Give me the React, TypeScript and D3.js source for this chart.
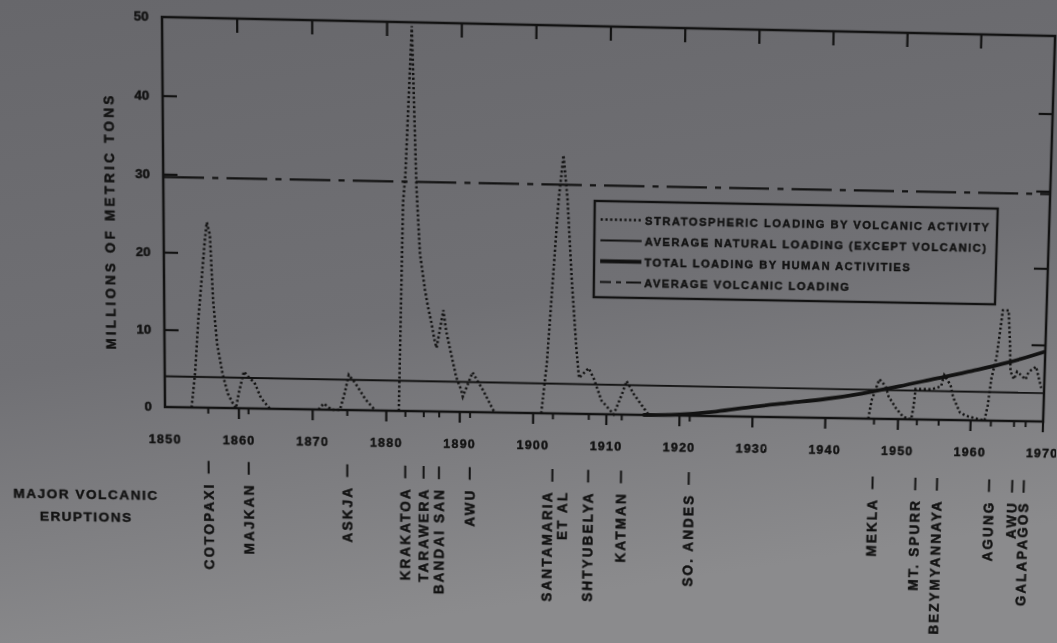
import React from 'react';
import * as d3 from 'd3';

// ---------- data ----------
const yearDomain = [1850, 1970];
const loadDomain = [0, 50];
const decadeTicks = [1850, 1860, 1870, 1880, 1890, 1900, 1910, 1920, 1930, 1940, 1950, 1960, 1970];
const loadTicks = [0, 10, 20, 30, 40, 50];

// null = break in the dotted record
const volcanicYears = [
  1853.6, 1854.1, 1854.6, 1855.0, 1855.5, 1855.8, 1856.2, 1856.4, 1856.6, 1857.1, 1857.8, 1858.5, 1859.2,
  1859.6, 1860.0, 1860.7, 1861.4, 1862.1, 1863.0, 1864.2, null,
  1870.8, 1871.5, 1872.6, 1873.7, 1874.4, 1874.9, 1875.8, 1877.2, 1878.5, null,
  1881.7, 1882.2, 1882.5, 1883.3, 1884.0, 1884.5, 1885.2, 1885.6, 1886.1, 1886.5, 1886.8, 1887.7, 1888.1,
  1888.6, 1889.0, 1889.5, 1890.2, 1890.4, 1891.1, 1891.7, 1892.2, 1893.2, 1894.5, 1894.8, null,
  1901.1, 1901.8, 1902.5, 1903.2, 1903.8, 1904.4, 1905.1, 1905.8, 1906.2, 1907.5, 1908.2, 1909.3, 1911.0,
  1912.1, 1912.7, 1913.7, 1915.8, null,
  1945.9, 1946.3, 1947.3, 1948.2, 1948.6, 1949.7, 1950.7, 1951.8, 1952.1, 1952.3, 1954.5, 1955.8, 1956.2,
  1957.1, 1957.5, 1958.5, 1959.3, 1960.5, 1961.9, 1962.3, 1962.7, 1963.3, 1963.7, 1964.0, 1964.8, 1965.1,
  1965.3, 1965.8, 1966.2, 1967.4, 1967.8, 1968.8, 1969.6,
];
const volcanicLoad = [
  0, 4.5, 11.7, 16, 21.5, 24, 22.4, 18, 13.8, 8.3, 4.5, 1.9, 0.6,
  0, 2, 4.8, 4.0, 3.4, 1.4, 0, null,
  0, 0.8, 0, 0, 2.4, 4.6, 3.5, 1.4, 0, null,
  0, 27, 30.5, 49.5, 29, 20.5, 15.8, 13.7, 11.5, 9.4, 8.3, 13.2, 10.5,
  8.3, 6.6, 4.5, 2.8, 2.0, 3.7, 5.2, 4.4, 2.8, 0.4, 0, null,
  0, 6.5, 17.2, 27.8, 33.5, 27.8, 17.2, 8.6, 4.7, 6.0, 4.7, 1.8, 0,
  2.7, 4.4, 2.7, 0, null,
  0, 2.4, 5.2, 4.3, 3.0, 1.4, 0.3, 0, 1.8, 4.0, 4.0, 4.4, 5.9,
  4.6, 3.0, 1.0, 0.6, 0.3, 0, 2.0, 5.6, 8.2, 11.7, 14.5, 14.5, 10.4,
  6.5, 5.5, 6.5, 5.5, 6.5, 7.2, 4.4,
];

const naturalYears = [1850, 1970];
const naturalLoad = [4.0, 3.75];

const humanYears = [1915, 1918, 1920, 1925, 1930, 1935, 1940, 1945, 1950, 1955, 1960, 1965, 1970];
const humanLoad = [0, 0.05, 0.15, 0.6, 1.3, 1.9, 2.5, 3.3, 4.3, 5.4, 6.5, 7.7, 9.2];

const averageVolcanicYears = [1850, 1970];
const averageVolcanicLoad = [29.7, 29.7];

const eruptionNames = [
  'COTOPAXI', 'MAJKAN', 'ASKJA', 'KRAKATOA', 'TARAWERA', 'BANDAI SAN', 'AWU', 'SANTAMARIA\nET AL',
  'SHTYUBELYA', 'KATMAN', 'SO. ANDES', 'MEKLA', 'MT. SPURR', 'BEZYMYANNAYA', 'AGUNG', 'AWU', 'GALAPAGOS',
];
const eruptionYears = [
  1855.85, 1861.3, 1874.7, 1882.6, 1885.1, 1887.2, 1891.4, 1902.7,
  1907.6, 1912.1, 1921.4, 1946.7, 1952.6, 1955.6, 1962.8, 1966.0, 1967.6,
];

const legendLabels = [
  'STRATOSPHERIC LOADING BY VOLCANIC ACTIVITY',
  'AVERAGE NATURAL LOADING (EXCEPT VOLCANIC)',
  'TOTAL LOADING BY HUMAN ACTIVITIES',
  'AVERAGE VOLCANIC LOADING',
];

const yTitle = 'MILLIONS OF METRIC TONS';
const eruptionTitle = ['MAJOR VOLCANIC', 'ERUPTIONS'];

// ---------- layout ----------
const W = 1057;
const H = 643;
const M = { left: 165, right: 1043, top: 17, bottom: 407 };
const INK = '#121212';
const FONT = '"Liberation Sans", Arial, Helvetica, sans-serif';

// photo perspective: where the frame corners landed in the photograph
const frameSrc = [[M.left, M.top], [M.left, M.bottom], [M.right, M.bottom], [M.right, M.top]];
const frameDst = [[162, 17], [165, 407], [1043, 421.5], [1055, 36]];

function solveHomography(src: number[][], dst: number[][]) {
  const A: number[][] = [];
  for (let i = 0; i < 4; i++) {
    const [x, y] = src[i];
    const [X, Y] = dst[i];
    A.push([x, y, 1, 0, 0, 0, -x * X, -y * X, X]);
    A.push([0, 0, 0, x, y, 1, -x * Y, -y * Y, Y]);
  }
  const n = 8;
  for (let c = 0; c < n; c++) {
    let p = c;
    for (let r = c + 1; r < n; r++) if (Math.abs(A[r][c]) > Math.abs(A[p][c])) p = r;
    [A[c], A[p]] = [A[p], A[c]];
    for (let r = 0; r < n; r++) {
      if (r === c) continue;
      const f = A[r][c] / A[c][c];
      for (let k = c; k <= n; k++) A[r][k] -= f * A[c][k];
    }
  }
  return A.map((row, i) => row[n] / row[i]);
}

export default function App() {
  const x = d3.scaleLinear().domain(yearDomain).range([M.left, M.right]);
  const y = d3.scaleLinear().domain(loadDomain).range([M.bottom, M.top]);

  const h = solveHomography(frameSrc, frameDst);
  const m3d = `matrix3d(${h[0]},${h[3]},0,${h[6]},${h[1]},${h[4]},0,${h[7]},0,0,1,0,${h[2]},${h[5]},0,1)`;

  const volcPts = volcanicYears.map((yr, i) => [yr, volcanicLoad[i]] as [number | null, number | null]);
  const volcLine = d3
    .line<[number | null, number | null]>()
    .defined((d) => d[0] != null && d[1] != null)
    .x((d) => x(d[0] as number))
    .y((d) => y(d[1] as number));

  const simpleLine = d3.line<[number, number]>().x((d) => x(d[0])).y((d) => y(d[1]));
  const humanLine = d3
    .line<[number, number]>()
    .x((d) => x(d[0]))
    .y((d) => y(d[1]))
    .curve(d3.curveMonotoneX);

  const naturalPts = naturalYears.map((yr, i) => [yr, naturalLoad[i]] as [number, number]);
  const humanPts = humanYears.map((yr, i) => [yr, humanLoad[i]] as [number, number]);
  const avgPts = averageVolcanicYears.map((yr, i) => [yr, averageVolcanicLoad[i]] as [number, number]);

  const dotted = { stroke: INK, strokeWidth: 2.5, strokeDasharray: '2.2 2.5', fill: 'none' };
  const dashDot = { stroke: INK, strokeWidth: 2.3, strokeDasharray: '40 8 6 8', fill: 'none' };

  const legendX = 590;
  const legendY = 191;
  const legendW = 401;
  const legendH = 97;
  const rowGap = 21;
  const sampleX0 = legendX + 6;
  const sampleX1 = legendX + 47;
  const legendStyles = [
    { ...dotted },
    { stroke: INK, strokeWidth: 1.9, fill: 'none' },
    { stroke: INK, strokeWidth: 3.8, fill: 'none' },
    { stroke: INK, strokeWidth: 2.2, strokeDasharray: '11 5 5 5 15', fill: 'none' },
  ];

  const textStyle = {
    fontFamily: FONT,
    fontWeight: 700,
    fill: INK,
    stroke: INK,
    strokeWidth: 0.45,
  } as const;

  // the label strip below the axis sits slightly more tilted in the photo
  const labelTilt = `translate(${M.left},0) skewY(0.45) translate(${-M.left},0)`;

  return (
    <div style={{ position: 'absolute', left: 0, top: 0, width: W, height: H, overflow: 'hidden' }}>
      <svg width={W} height={H} style={{ position: 'absolute', left: 0, top: 0 }}>
        <defs>
          <linearGradient id="paper" x1="0" y1="0" x2="0.25" y2="1">
            <stop offset="0" stopColor="#67676b" />
            <stop offset="0.55" stopColor="#707074" />
            <stop offset="1" stopColor="#8b8b8d" />
          </linearGradient>
        </defs>
        <rect x={0} y={0} width={W} height={H} fill="url(#paper)" />
      </svg>
      <svg
        width={W}
        height={H}
        style={{ position: 'absolute', left: 0, top: 0, transformOrigin: '0 0', transform: m3d }}
      >
        {/* frame */}
        <rect
          x={x(yearDomain[0])}
          y={y(loadDomain[1])}
          width={x(yearDomain[1]) - x(yearDomain[0])}
          height={y(loadDomain[0]) - y(loadDomain[1])}
          fill="none"
          stroke={INK}
          strokeWidth={2.5}
        />
        {/* top ticks */}
        {decadeTicks.slice(1, -1).map((d) => (
          <line key={'t' + d} x1={x(d)} x2={x(d)} y1={y(50)} y2={y(50) + 14} stroke={INK} strokeWidth={2.2} />
        ))}
        {/* bottom decade ticks */}
        {decadeTicks.slice(1).map((d) => (
          <line key={'b' + d} x1={x(d)} x2={x(d)} y1={y(0)} y2={y(0) + 11} stroke={INK} strokeWidth={2.2} />
        ))}
        {/* bottom eruption ticks */}
        {eruptionYears.map((d, i) => (
          <line key={'e' + i} x1={x(d)} x2={x(d)} y1={y(0)} y2={y(0) + 6} stroke={INK} strokeWidth={2} />
        ))}
        {/* left / right ticks */}
        {loadTicks.slice(1, -1).map((v) => (
          <g key={'l' + v}>
            <line x1={x(1850)} x2={x(1850) + 14} y1={y(v)} y2={y(v)} stroke={INK} strokeWidth={2.2} />
            <line x1={x(1970)} x2={x(1970) - 14} y1={y(v)} y2={y(v)} stroke={INK} strokeWidth={2.2} />
          </g>
        ))}
        {/* y tick labels */}
        {loadTicks.map((v) => (
          <text key={'yl' + v} x={152} y={y(v) + 4.5} textAnchor="end" fontSize={13} {...textStyle}>
            {v}
          </text>
        ))}
        {/* x tick labels */}
        {decadeTicks.map((d) => (
          <text
            key={'xl' + d}
            x={x(d)}
            y={444}
            textAnchor="middle"
            fontSize={12.5}
            letterSpacing={1.2}
            {...textStyle}
          >
            {d}
          </text>
        ))}
        {/* y title */}
        <text
          transform={`translate(117,221) rotate(-90)`}
          textAnchor="middle"
          fontSize={13.5}
          letterSpacing={3.2}
          {...textStyle}
        >
          {yTitle}
        </text>

        {/* series */}
        <path d={simpleLine(avgPts) || ''} {...dashDot} />
        <path d={simpleLine(naturalPts) || ''} stroke={INK} strokeWidth={1.9} fill="none" />
        <path d={humanLine(humanPts) || ''} stroke={INK} strokeWidth={3.8} fill="none" />
        <path d={volcLine(volcPts) || ''} {...dotted} />

        {/* legend */}
        <rect x={legendX} y={legendY} width={legendW} height={legendH} fill="none" stroke={INK} strokeWidth={2.4} />
        {legendLabels.map((lab, i) => {
          const ry = legendY + 18.5 + i * rowGap;
          return (
            <g key={'lg' + i}>
              <line x1={sampleX0} x2={sampleX1} y1={ry} y2={ry} {...legendStyles[i]} />
              <text x={sampleX1 + 3} y={ry + 4.2} fontSize={11.2} letterSpacing={1.45} {...textStyle}>
                {lab}
              </text>
            </g>
          );
        })}

        {/* eruption labels */}
        {eruptionTitle.map((t, i) => (
          <text key={'et' + i} x={86} y={502 + i * 23} textAnchor="middle" fontSize={13.5} letterSpacing={1.5} {...textStyle}>
            {t}
          </text>
        ))}
        <g transform={labelTilt}>
          {eruptionNames.map((name, i) => {
            const ex = x(eruptionYears[i]);
            const lines = name.split('\n');
            return (
              <g key={'en' + i}>
                <line x1={ex} x2={ex} y1={461} y2={474} stroke={INK} strokeWidth={2} />
                {lines.map((ln, j) => (
                  <text
                    key={j}
                    transform={`translate(${ex + 5 + (lines.length > 1 ? -5 + j * 15 : 0)},483) rotate(-90)`}
                    textAnchor="end"
                    fontSize={14}
                    letterSpacing={2.2}
                    {...textStyle}
                  >
                    {ln}
                  </text>
                ))}
              </g>
            );
          })}
        </g>
      </svg>
    </div>
  );
}
